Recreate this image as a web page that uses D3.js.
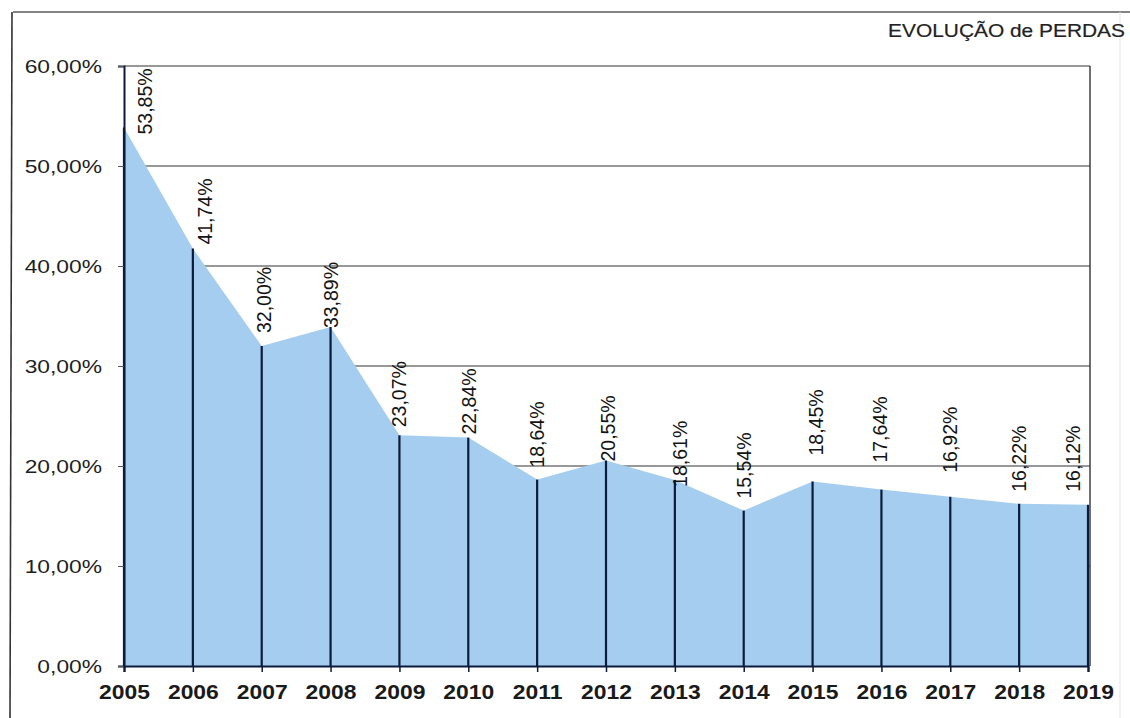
<!DOCTYPE html>
<html>
<head>
<meta charset="utf-8">
<script src="https://cdn.jsdelivr.net/npm/d3@7/dist/d3.min.js"></script>
<style>
  html, body { margin: 0; padding: 0; background: #fff; }
  svg { display: block; }
  text { font-family: "Liberation Sans", Arial, sans-serif; }
</style>
</head>
<body>
<svg id="chart" width="1130" height="718"></svg>
<script>
// ---- data ----
const years  = ["2005","2006","2007","2008","2009","2010","2011","2012","2013","2014","2015","2016","2017","2018","2019"];
const losses = [53.85, 41.74, 32.00, 33.89, 23.07, 22.84, 18.64, 20.55, 18.61, 15.54, 18.45, 17.64, 16.92, 16.22, 16.12];
const yTicks = [0, 10, 20, 30, 40, 50, 60];
const title  = "EVOLUÇÃO de PERDAS";

// ---- layout (label nudges: [dx, gap above point]) ----
const labelNudge = [[21,-7],[12,4],[2,13],[0,-1],[0,8],[1,3],[0,12],[2,-1],[5,-7],[0,12],[3,26],[-1,27],[0,24],[0,12],[-15,13]];
const M = { left: 124, right: 1088, top: 66, bottom: 666 };
const plotRight = 1090;

const svg = d3.select("#chart");
const x = d3.scalePoint().domain(years).range([M.left, M.right]);
const y = d3.scaleLinear().domain([0, 60]).range([M.bottom, M.top]);
const locale = d3.formatLocale({ decimal: ",", thousands: ".", grouping: [3], currency: ["", ""] });
const fmt = locale.format(".2f");

function stretch(sel, factor) {
  sel.each(function () {
    const len = this.getComputedTextLength();
    d3.select(this).attr("textLength", len * factor).attr("lengthAdjust", "spacingAndGlyphs");
  });
}

// outer frame of the scanned page
svg.append("line").attr("x1", 13).attr("x2", 1130).attr("y1", 12).attr("y2", 12)
  .attr("stroke", "#5a5a5a").attr("stroke-width", 1.5);
svg.append("line").attr("x1", 12).attr("x2", 10).attr("y1", 12).attr("y2", 718)
  .attr("stroke", "#333").attr("stroke-width", 1.6);
svg.append("line").attr("x1", 1120).attr("x2", 1120).attr("y1", 12).attr("y2", 718)
  .attr("stroke", "#e4e4e4").attr("stroke-width", 1);

// title
const t = svg.append("text").attr("x", 1125).attr("y", 37).attr("text-anchor", "end")
  .attr("font-size", 19).attr("fill", "#222").attr("stroke", "#222").attr("stroke-width", 0.2)
  .text(title);
stretch(t, 1.1);

// gridlines
svg.append("g").selectAll("line").data(yTicks.filter(d => d > 0)).join("line")
  .attr("x1", M.left).attr("x2", plotRight)
  .attr("y1", d => y(d)).attr("y2", d => y(d))
  .attr("stroke", "#333").attr("stroke-width", 1.2);

// area
const area = d3.area().x((d, i) => x(years[i])).y0(y(0)).y1(d => y(d));
svg.append("path").datum(losses).attr("d", area).attr("fill", "#a5cdef");

// drop lines
svg.append("g").selectAll("line").data(losses).join("line")
  .attr("x1", (d, i) => x(years[i])).attr("x2", (d, i) => x(years[i]))
  .attr("y1", d => y(d)).attr("y2", y(0))
  .attr("stroke", "#0c1a3c").attr("stroke-width", 2.2);

// right border of plot
svg.append("line").attr("x1", plotRight).attr("x2", plotRight).attr("y1", M.top).attr("y2", M.bottom)
  .attr("stroke", "#333").attr("stroke-width", 1.4);

// y axis
const yAxis = svg.append("g").attr("transform", `translate(${M.left},0)`)
  .call(d3.axisLeft(y).tickValues(yTicks).tickSize(6).tickPadding(16).tickFormat(d => fmt(d) + "%"));
yAxis.select(".domain").attr("stroke", "#0c1a3c").attr("stroke-width", 2);
yAxis.selectAll(".tick line").attr("stroke", "#555");
yAxis.selectAll(".tick text").attr("font-size", 19).attr("fill", "#1e1e1e")
  .attr("font-family", "'Liberation Sans', Arial, sans-serif");
stretch(yAxis.selectAll(".tick text"), 1.2);

// x axis
const xAxis = svg.append("g").attr("transform", `translate(0,${M.bottom})`)
  .call(d3.axisBottom(x).tickSize(6).tickPadding(12));
xAxis.select(".domain").attr("stroke", "#0c1a3c").attr("stroke-width", 2.2);
xAxis.selectAll(".tick line").attr("stroke", "#0c1a3c").attr("stroke-width", 1.5);
xAxis.selectAll(".tick text").attr("font-size", 21).attr("font-weight", "bold").attr("fill", "#1a1a1a")
  .attr("font-family", "'Liberation Sans', Arial, sans-serif");
stretch(xAxis.selectAll(".tick text"), 1.09);

// value labels
svg.append("g").selectAll("text").data(losses).join("text")
  .attr("transform", (d, i) => {
    const [dx, gap] = labelNudge[i];
    return `translate(${x(years[i]) + dx},${y(d) - gap}) rotate(-90)`;
  })
  .attr("text-anchor", "start").attr("dominant-baseline", "central")
  .attr("font-size", 19.5).attr("fill", "#141414")
  .text(d => fmt(d) + "%");
</script>
</body>
</html>
